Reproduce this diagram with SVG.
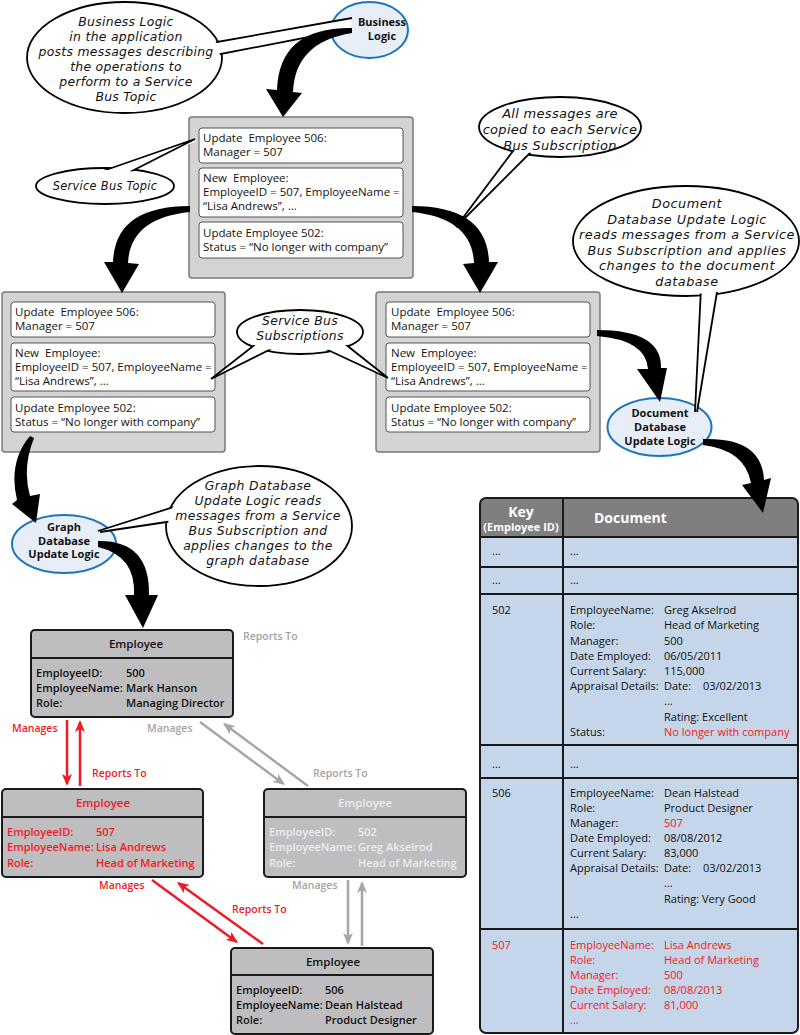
<svg xmlns="http://www.w3.org/2000/svg" width="800" height="1035" viewBox="0 0 800 1035">
<style>
.bx{font-family:"Open Sans","Noto Sans",sans-serif;font-size:11.5px;fill:#111}
.hand{font-family:"DejaVu Sans","Open Sans",sans-serif;font-style:oblique;font-size:12.4px;letter-spacing:0.3px;fill:#111;text-anchor:middle}
.lbl{font-family:"Open Sans","Noto Sans",sans-serif;font-weight:700;font-size:11px;text-anchor:middle;fill:#111}
.emp{font-family:"Open Sans","Noto Sans",sans-serif;font-weight:600;font-size:11px;fill:#111}
.ttl{font-family:"Open Sans","Noto Sans",sans-serif;font-weight:600;font-size:11.5px;text-anchor:middle;fill:#111}
.tb{font-family:"Open Sans","Noto Sans",sans-serif;font-size:11px;fill:#111}
.rl{font-family:"Open Sans","Noto Sans",sans-serif;font-weight:600;font-size:10.5px}
.red{fill:#ed1c24}
.lg{fill:#ececec}
.gl{fill:#a3a3a3}
.bubble{fill:#fff;stroke:#000;stroke-width:1.8}
.tail{fill:none;stroke:#000;stroke-width:1.8;stroke-linejoin:miter}
.cover{fill:#fff;stroke:none}
.logic{fill:#e8eef8;stroke:#1b75bc;stroke-width:2}
.outer{fill:#d3d3d3;stroke:#7a7a7a;stroke-width:1.5}
.msg{fill:#fff;stroke:#555;stroke-width:1}
.empbox{fill:#bebec0;stroke:#1a1a1a;stroke-width:2}
.rline{stroke:#ed1c24;stroke-width:2.5;fill:none}
.gline{stroke:#a6a6a6;stroke-width:2.5;fill:none}
.grid{stroke:#1a1a1a;stroke-width:2;fill:none}
</style>
<defs>
<marker id="ar" markerUnits="userSpaceOnUse" markerWidth="12" markerHeight="10" viewBox="0 0 12 10" refX="10" refY="5" orient="auto"><path d="M0,0 L12,5 L0,10 L3,5 z" fill="#ed1c24"/></marker>
<marker id="ag" markerUnits="userSpaceOnUse" markerWidth="12" markerHeight="10" viewBox="0 0 12 10" refX="10" refY="5" orient="auto"><path d="M0,0 L12,5 L0,10 L3,5 z" fill="#a6a6a6"/></marker>
</defs>

<!-- Business Logic node -->
<g id="business-logic">
<ellipse class="logic" cx="369.5" cy="30" rx="38.5" ry="28"/>
</g>

<!-- Callout: business logic -->
<g id="callout-business">
<ellipse class="bubble" cx="124.5" cy="57.5" rx="97.5" ry="55.5"/>
<polygon class="cover" points="200,45 352,18 350,29 200,58"/>
<polyline class="tail" points="200,45 352,18"/>
<polyline class="tail" points="200,58 350,29"/>
<ellipse class="cover" cx="124.5" cy="57.5" rx="95.5" ry="53.5"/>
<text class="hand" x="126" y="26">Business Logic</text>
<text class="hand" x="126" y="41">in the application</text>
<text class="hand" x="126" y="56">posts messages describing</text>
<text class="hand" x="126" y="71">the operations to</text>
<text class="hand" x="126" y="86">perform to a Service</text>
<text class="hand" x="126" y="101">Bus Topic</text>
</g>
<g id="business-logic-label">
<text class="lbl" x="382" y="26">Business</text>
<text class="lbl" x="382" y="40">Logic</text>
</g>

<!-- Service Bus Topic -->
<g id="topic">
<rect class="outer" x="189" y="117" width="224" height="161" rx="3"/>
<rect class="msg" x="199" y="128" width="204" height="35" rx="3"/>
<rect class="msg" x="199" y="168" width="204" height="49" rx="3"/>
<rect class="msg" x="199" y="222" width="204" height="36" rx="3"/>
<text class="bx" x="203" y="142">Update&#160; Employee 506:</text>
<text class="bx" x="203" y="156">Manager = 507</text>
<text class="bx" x="203" y="182">New&#160; Employee:</text>
<text class="bx" x="203" y="196">EmployeeID = 507, EmployeeName =</text>
<text class="bx" x="203" y="210">“Lisa Andrews”, ...</text>
<text class="bx" x="203" y="237">Update Employee 502:</text>
<text class="bx" x="203" y="251">Status = “No longer with company”</text>
</g>

<g id="callout-topic">
<ellipse class="bubble" cx="105" cy="186" rx="69" ry="18"/>
<polygon class="cover" points="100,172 195,139 196,141 128,173"/>
<polyline class="tail" points="100,172 195,139 128,173"/>
<ellipse class="cover" cx="105" cy="186" rx="67" ry="16"/>
<text class="hand" x="105" y="190" style="font-size:11.4px">Service Bus Topic</text>
</g>

<g id="callout-copied">
<ellipse class="bubble" cx="560" cy="127" rx="81" ry="30"/>
<polygon class="cover" points="519,143 456,227 538,145"/>
<polyline class="tail" points="519,143 456,227 538,145"/>
<ellipse class="cover" cx="560" cy="127" rx="79" ry="28"/>
<text class="hand" x="560" y="118" style="font-size:13px">All messages are</text>
<text class="hand" x="560" y="134" style="font-size:13px">copied to each Service</text>
<text class="hand" x="560" y="150" style="font-size:13px">Bus Subscription</text>
</g>

<!-- Subscriptions -->
<g id="subscription-graph">
<rect class="outer" x="2" y="292" width="223" height="160" rx="3"/>
<rect class="msg" x="11" y="302" width="204" height="35" rx="3"/>
<rect class="msg" x="11" y="343" width="204" height="48" rx="3"/>
<rect class="msg" x="11" y="397" width="204" height="35" rx="3"/>
<text class="bx" x="15" y="316">Update&#160; Employee 506:</text>
<text class="bx" x="15" y="330">Manager = 507</text>
<text class="bx" x="15" y="357">New&#160; Employee:</text>
<text class="bx" x="15" y="371">EmployeeID = 507, EmployeeName =</text>
<text class="bx" x="15" y="385">“Lisa Andrews”, ...</text>
<text class="bx" x="15" y="412">Update Employee 502:</text>
<text class="bx" x="15" y="426">Status = “No longer with company”</text>
</g>
<g id="subscription-document">
<rect class="outer" x="376" y="292" width="224" height="160" rx="3"/>
<rect class="msg" x="386" y="302" width="204" height="35" rx="3"/>
<rect class="msg" x="386" y="343" width="204" height="48" rx="3"/>
<rect class="msg" x="386" y="397" width="204" height="35" rx="3"/>
<text class="bx" x="391" y="316">Update&#160; Employee 506:</text>
<text class="bx" x="391" y="330">Manager = 507</text>
<text class="bx" x="391" y="357">New&#160; Employee:</text>
<text class="bx" x="391" y="371">EmployeeID = 507, EmployeeName =</text>
<text class="bx" x="391" y="385">“Lisa Andrews”, ...</text>
<text class="bx" x="391" y="412">Update Employee 502:</text>
<text class="bx" x="391" y="426">Status = “No longer with company”</text>
</g>

<g id="callout-subscriptions">
<ellipse class="bubble" cx="300" cy="332" rx="63" ry="22"/>
<polygon class="cover" points="261,340 211,379 283,343"/>
<polyline class="tail" points="261,340 211,379 283,343"/>
<polygon class="cover" points="315,344 388,378 340,340"/>
<polyline class="tail" points="315,344 388,378 340,340"/>
<ellipse class="cover" cx="300" cy="332" rx="61" ry="20"/>
<text class="hand" x="300" y="325">Service Bus</text>
<text class="hand" x="300" y="340">Subscriptions</text>
</g>

<g id="document-logic">
<ellipse class="logic" cx="659.5" cy="427" rx="52" ry="29"/>
<text class="lbl" x="660" y="417">Document</text>
<text class="lbl" x="660" y="431">Database</text>
<text class="lbl" x="660" y="445">Update Logic</text>
</g>

<g id="callout-document">
<ellipse class="bubble" cx="686" cy="241" rx="113" ry="55"/>
<polygon class="cover" points="701,288 695,412 697,412 718,286"/>
<polyline class="tail" points="701,288 695,412"/>
<polyline class="tail" points="718,286 697,412"/>
<ellipse class="cover" cx="686" cy="241" rx="111" ry="53"/>
<text class="hand" x="687" y="208" style="font-size:12.8px;letter-spacing:0.5px">Document</text>
<text class="hand" x="687" y="223.5" style="font-size:12.8px;letter-spacing:0.5px">Database Update Logic</text>
<text class="hand" x="687" y="239" style="font-size:12.8px;letter-spacing:0.5px">reads messages from a Service</text>
<text class="hand" x="687" y="254.5" style="font-size:12.8px;letter-spacing:0.5px">Bus Subscription and applies</text>
<text class="hand" x="687" y="270" style="font-size:12.8px;letter-spacing:0.5px">changes to the document</text>
<text class="hand" x="687" y="285.5" style="font-size:12.8px;letter-spacing:0.5px">database</text>
</g>

<g id="graph-logic">
<ellipse class="logic" cx="64" cy="544" rx="52" ry="29"/>
<text class="lbl" x="64" y="531">Graph</text>
<text class="lbl" x="64" y="545">Database</text>
<text class="lbl" x="64" y="558">Update Logic</text>
</g>

<g id="callout-graph">
<ellipse class="bubble" cx="259" cy="526" rx="93" ry="60"/>
<polygon class="cover" points="180,505 98,531 100,532 180,520"/>
<polyline class="tail" points="180,505 98,531"/>
<polyline class="tail" points="180,520 100,532"/>
<ellipse class="cover" cx="259" cy="526" rx="91" ry="58"/>
<text class="hand" x="258" y="490" style="letter-spacing:0.4px">Graph Database</text>
<text class="hand" x="258" y="505" style="letter-spacing:0.4px">Update Logic reads</text>
<text class="hand" x="258" y="520" style="letter-spacing:0.4px">messages from a Service</text>
<text class="hand" x="258" y="535" style="letter-spacing:0.4px">Bus Subscription and</text>
<text class="hand" x="258" y="550" style="letter-spacing:0.4px">applies changes to the</text>
<text class="hand" x="258" y="565" style="letter-spacing:0.4px">graph database</text>
</g>

<!-- Document database table -->
<g id="document-db">
<rect x="480" y="498" width="318" height="535" rx="6" fill="#c5d5ea"/>
<path d="M480,537 V504 Q480,498 486,498 H792 Q798,498 798,504 V537 Z" fill="#7f7f7f"/>
<rect class="grid" x="480" y="498" width="318" height="535" rx="6"/>
<line class="grid" x1="480" y1="537" x2="798" y2="537"/>
<line class="grid" x1="480" y1="567" x2="798" y2="567"/>
<line class="grid" x1="480" y1="594" x2="798" y2="594"/>
<line class="grid" x1="480" y1="745" x2="798" y2="745"/>
<line class="grid" x1="480" y1="778" x2="798" y2="778"/>
<line class="grid" x1="480" y1="929" x2="798" y2="929"/>
<line class="grid" x1="563" y1="498" x2="563" y2="1033"/>
<text x="521" y="517" text-anchor="middle" font-family="Open Sans, Noto Sans, sans-serif" font-weight="700" font-size="14" fill="#fff">Key</text>
<text x="521" y="531" text-anchor="middle" font-family="Open Sans, Noto Sans, sans-serif" font-weight="700" font-size="11" fill="#fff">(Employee ID)</text>
<text x="594" y="523" font-family="Open Sans, Noto Sans, sans-serif" font-weight="700" font-size="14" fill="#fff">Document</text>
<text class="tb" x="492" y="555">...</text><text class="tb" x="570" y="555">...</text>
<text class="tb" x="492" y="584">...</text><text class="tb" x="570" y="584">...</text>
<text class="tb" x="492" y="614">502</text>
<text class="tb" x="570" y="614">EmployeeName:</text><text class="tb" x="664" y="614">Greg Akselrod</text>
<text class="tb" x="570" y="629">Role:</text><text class="tb" x="664" y="629">Head of Marketing</text>
<text class="tb" x="570" y="645">Manager:</text><text class="tb" x="664" y="645">500</text>
<text class="tb" x="570" y="660">Date Employed:</text><text class="tb" x="664" y="660">06/05/2011</text>
<text class="tb" x="570" y="675">Current Salary:</text><text class="tb" x="664" y="675">115,000</text>
<text class="tb" x="570" y="690">Appraisal Details:</text><text class="tb" x="664" y="690">Date:</text><text class="tb" x="703" y="690">03/02/2013</text>
<text class="tb" x="664" y="705">...</text>
<text class="tb" x="664" y="721">Rating: Excellent</text>
<text class="tb" x="570" y="736">Status:</text><text class="tb red" x="664" y="736">No longer with company</text>
<text class="tb" x="492" y="768">...</text><text class="tb" x="570" y="768">...</text>
<text class="tb" x="492" y="797">506</text>
<text class="tb" x="570" y="797">EmployeeName:</text><text class="tb" x="664" y="797">Dean Halstead</text>
<text class="tb" x="570" y="812">Role:</text><text class="tb" x="664" y="812">Product Designer</text>
<text class="tb" x="570" y="827">Manager:</text><text class="tb red" x="664" y="827">507</text>
<text class="tb" x="570" y="842">Date Employed:</text><text class="tb" x="664" y="842">08/08/2012</text>
<text class="tb" x="570" y="857">Current Salary:</text><text class="tb" x="664" y="857">83,000</text>
<text class="tb" x="570" y="872">Appraisal Details:</text><text class="tb" x="664" y="872">Date:</text><text class="tb" x="703" y="872">03/02/2013</text>
<text class="tb" x="664" y="887">...</text>
<text class="tb" x="664" y="903">Rating: Very Good</text>
<text class="tb" x="570" y="918">...</text>
<text class="tb red" x="492" y="949">507</text>
<text class="tb red" x="570" y="949">EmployeeName:</text><text class="tb red" x="664" y="949">Lisa Andrews</text>
<text class="tb red" x="570" y="964">Role:</text><text class="tb red" x="664" y="964">Head of Marketing</text>
<text class="tb red" x="570" y="979">Manager:</text><text class="tb red" x="664" y="979">500</text>
<text class="tb red" x="570" y="994">Date Employed:</text><text class="tb red" x="664" y="994">08/08/2013</text>
<text class="tb red" x="570" y="1009">Current Salary:</text><text class="tb red" x="664" y="1009">81,000</text>
<text class="tb red" x="570" y="1024">...</text>
</g>

<!-- Graph database employees -->
<g id="emp-500">
<rect class="empbox" x="31" y="630" width="202" height="87" rx="4"/>
<line class="grid" x1="31" y1="658" x2="233" y2="658"/>
<text class="ttl" x="136" y="648">Employee</text>
<text class="emp" x="36" y="677">EmployeeID:</text><text class="emp" x="126" y="677">500</text>
<text class="emp" x="36" y="692">EmployeeName:</text><text class="emp" x="126" y="692">Mark Hanson</text>
<text class="emp" x="36" y="707">Role:</text><text class="emp" x="126" y="707">Managing Director</text>
</g>
<g id="emp-507">
<rect class="empbox" x="2" y="789" width="201" height="88" rx="4"/>
<line class="grid" x1="2" y1="817" x2="203" y2="817"/>
<text class="ttl red" x="103" y="807">Employee</text>
<text class="emp red" x="7" y="836">EmployeeID:</text><text class="emp red" x="96" y="836">507</text>
<text class="emp red" x="7" y="851">EmployeeName:</text><text class="emp red" x="96" y="851">Lisa Andrews</text>
<text class="emp red" x="7" y="867">Role:</text><text class="emp red" x="96" y="867">Head of Marketing</text>
</g>
<g id="emp-502">
<rect class="empbox" x="264" y="789" width="202" height="88" rx="4"/>
<line class="grid" x1="264" y1="817" x2="466" y2="817"/>
<text class="ttl lg" x="365" y="807">Employee</text>
<text class="emp lg" x="269" y="836">EmployeeID:</text><text class="emp lg" x="358" y="836">502</text>
<text class="emp lg" x="269" y="851">EmployeeName:</text><text class="emp lg" x="358" y="851">Greg Akselrod</text>
<text class="emp lg" x="269" y="867">Role:</text><text class="emp lg" x="358" y="867">Head of Marketing</text>
</g>
<g id="emp-506">
<rect class="empbox" x="231" y="948" width="202" height="86" rx="4"/>
<line class="grid" x1="231" y1="975" x2="433" y2="975"/>
<text class="ttl" x="333" y="966">Employee</text>
<text class="emp" x="236" y="994">EmployeeID:</text><text class="emp" x="325" y="994">506</text>
<text class="emp" x="236" y="1009">EmployeeName:</text><text class="emp" x="325" y="1009">Dean Halstead</text>
<text class="emp" x="236" y="1024">Role:</text><text class="emp" x="325" y="1024">Product Designer</text>
</g>

<!-- Connectors -->
<g id="connectors">
<path class="big" d="M352,28 Q279,27 277,90 L266,89 L283,117 L302,93 L293,92 Q295,42 352,33 Z"/>
<path class="big" d="M190,206 Q115,206 113,262 L104,262 L122,293 L139,264 L128,263 Q130,218 190,212 Z"/>
<path class="big" d="M412,206 Q487,206 489,262 L498,262 L480,293 L463,264 L474,263 Q472,218 412,212 Z"/>
<path class="big" d="M597,330 Q662,330 661,368 L667,368 L660,402 L637,369 L648,369 Q646,340 597,336 Z"/>
<path class="big" d="M703,439 Q762,437 764,480 L771,478 L763,513 L742,485 L751,483 Q745,450 703,445 Z"/>
<path class="big" d="M30,436 Q8,462 17,500 L12,504 L36,523 L40,494 L30,496 Q22,468 34,438 Z"/>
<path class="big" d="M98,541 Q150,540 149,595 L158,595 L143,628 L125,595 L134,595 Q136,556 98,547 Z"/>

<line class="rline" x1="67" y1="720" x2="67" y2="784" marker-end="url(#ar)"/>
<line class="rline" x1="80" y1="786" x2="80" y2="722" marker-end="url(#ar)"/>
<line class="gline" x1="200" y1="722" x2="283.4" y2="783.8" marker-end="url(#ag)"/>
<line class="gline" x1="308" y1="786" x2="224.6" y2="724.2" marker-end="url(#ag)"/>
<line class="rline" x1="152" y1="880" x2="236.4" y2="941.8" marker-end="url(#ar)"/>
<line class="rline" x1="263" y1="944" x2="178.6" y2="883.2" marker-end="url(#ar)"/>
<line class="gline" x1="348" y1="880" x2="348" y2="943" marker-end="url(#ag)"/>
<line class="gline" x1="362" y1="946" x2="362" y2="883" marker-end="url(#ag)"/>

<text class="rl gl" x="243" y="640">Reports To</text>
<text class="rl red" x="12" y="732">Manages</text>
<text class="rl red" x="92" y="777">Reports To</text>
<text class="rl gl" x="147" y="732">Manages</text>
<text class="rl gl" x="313" y="777">Reports To</text>
<text class="rl red" x="99" y="889">Manages</text>
<text class="rl red" x="232" y="913">Reports To</text>
<text class="rl gl" x="292" y="889">Manages</text>
</g>
</svg>
